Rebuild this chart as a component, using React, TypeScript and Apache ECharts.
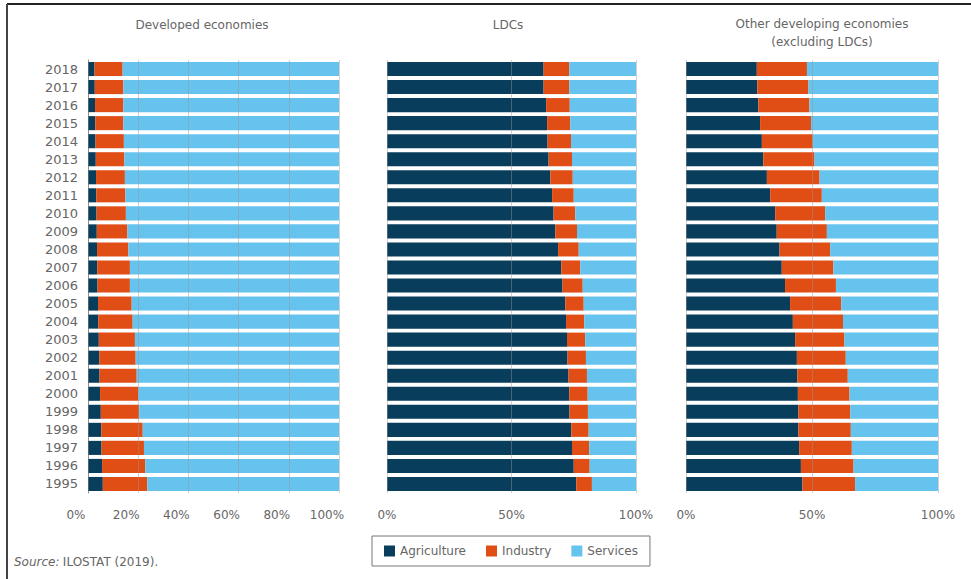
import React, { useEffect, useRef } from "react";
import * as echarts from "echarts";

const years = ["1995","1996","1997","1998","1999","2000","2001","2002","2003","2004","2005","2006","2007","2008","2009","2010","2011","2012","2013","2014","2015","2016","2017","2018"];

const devAgr = [5.9,5.6,5.4,5.3,5.1,4.8,4.6,4.5,4.3,4.1,4.0,3.8,3.7,3.6,3.5,3.4,3.3,3.2,3.1,3.0,2.9,2.8,2.7,2.6];
const devInd = [17.7,17.2,16.9,16.5,15.3,15.2,14.8,14.5,14.4,13.7,13.4,12.9,13.0,12.5,12.2,11.7,11.6,11.5,11.4,11.3,11.2,11.3,11.4,11.2];
const devSer = [76.4,77.2,77.7,78.2,79.6,80.0,80.6,81.0,81.3,82.2,82.6,83.3,83.3,83.9,84.3,84.9,85.1,85.3,85.5,85.7,85.9,85.9,85.9,86.2];

const ldcAgr = [76.0,75.0,74.3,74.0,73.3,73.2,72.9,72.5,72.3,71.9,71.6,70.5,70.0,68.7,67.6,66.9,66.3,65.6,64.9,64.5,64.3,63.9,62.9,62.9];
const ldcInd = [6.3,6.4,6.9,7.0,7.4,7.4,7.4,7.4,7.3,7.3,7.4,8.1,7.6,8.3,8.7,8.7,8.7,9.0,9.4,9.4,9.3,9.5,10.3,10.3];
const ldcSer = [17.7,18.6,18.8,19.0,19.3,19.4,19.7,20.1,20.4,20.8,21.0,21.4,22.4,23.0,23.7,24.4,25.0,25.4,25.7,26.1,26.4,26.6,26.8,26.8];

const othAgr = [46.2,45.6,44.9,44.6,44.6,44.4,44.2,44.0,43.3,42.4,41.3,39.3,38.0,37.1,36.0,35.4,33.4,32.1,30.7,30.1,29.4,28.7,28.3,28.1];
const othInd = [20.9,20.9,20.9,20.8,20.6,20.5,20.0,19.4,19.6,19.9,20.3,20.2,20.5,20.1,19.9,19.8,20.5,20.9,20.3,20.2,20.2,20.3,20.3,19.9];
const othSer = [32.9,33.5,34.2,34.6,34.8,35.1,35.8,36.6,37.1,37.7,38.4,40.5,41.5,42.8,44.1,44.8,46.1,47.0,49.0,49.7,50.4,51.0,51.4,52.0];

const panelTitles = ["Developed economies", "LDCs", "Other developing economies", "(excluding LDCs)"];
const seriesNames = ["Agriculture", "Industry", "Services"];
const sourceText = "ILOSTAT (2019).";

const COLORS = ["#083d5c", "#e04e16", "#66c3ee"];
const FONT = "DejaVu Sans";
const TXT = "#666";

export default function App() {
  const ref = useRef<HTMLDivElement>(null);
  useEffect(() => {
    document.body.style.margin = "0";
    const chart = echarts.init(ref.current!, null, { renderer: "svg" });
    const grids = [
      { left: 88, right: 632, top: 60, bottom: 86 },
      { left: 387, right: 335, top: 60, bottom: 86 },
      { left: 686, right: 33, top: 60, bottom: 86 },
    ];
    const intervals = [20, 50, 50];
    const data = [
      [devAgr, devInd, devSer],
      [ldcAgr, ldcInd, ldcSer],
      [othAgr, othInd, othSer],
    ];
    const xAxis = grids.map((_, i) => ({
      type: "value",
      gridIndex: i,
      min: 0,
      max: 100,
      interval: intervals[i],
      z: 5,
      axisLine: { show: false },
      axisTick: { show: false },
      splitLine: { show: true, lineStyle: { color: "rgba(150,150,150,0.45)", width: 1 } },
      axisLabel: {
        formatter: "{value}%",
        color: TXT,
        fontFamily: FONT,
        fontSize: 12,
        margin: 16,
        padding: i === 0 ? [0, 24, 0, 0] : 0,
      },
    }));
    const yAxis = grids.map((_, i) => ({
      type: "category",
      gridIndex: i,
      data: years,
      axisLine: { show: i === 0, lineStyle: { color: "#888" } },
      axisTick: { show: false },
      axisLabel: {
        show: i === 0,
        color: TXT,
        fontFamily: FONT,
        fontSize: 13,
        margin: 10,
      },
    }));
    const series: any[] = [];
    data.forEach((panel, p) => {
      panel.forEach((vals, k) => {
        series.push({
          name: seriesNames[k],
          type: "bar",
          stack: "s" + p,
          xAxisIndex: p,
          yAxisIndex: p,
          data: vals,
          barCategoryGap: "22%",
          itemStyle: { color: COLORS[k] },
          emphasis: { disabled: true },
        });
      });
    });
    chart.setOption({
      animation: false,
      grid: grids,
      xAxis,
      yAxis,
      series,
      legend: {
        data: seriesNames,
        left: 372,
        top: 536,
        padding: [9, 12, 9, 12],
        itemWidth: 11,
        itemHeight: 11,
        itemGap: 20,
        icon: "rect",
        borderColor: "#777",
        borderWidth: 1,
        textStyle: { color: TXT, fontFamily: FONT, fontSize: 12 },
      },
      graphic: [
        { type: "line", shape: { x1: 7, y1: 4, x2: 971, y2: 4 }, style: { stroke: "#222", lineWidth: 2 } },
        { type: "line", shape: { x1: 7, y1: 4, x2: 7, y2: 579 }, style: { stroke: "#444", lineWidth: 2 } },
        { type: "text", x: 202, y: 25, style: { text: panelTitles[0], textAlign: "center", textVerticalAlign: "middle", fill: TXT, font: `12px "${FONT}"` } },
        { type: "text", x: 508, y: 25, style: { text: panelTitles[1], textAlign: "center", textVerticalAlign: "middle", fill: TXT, font: `12px "${FONT}"` } },
        { type: "text", x: 822, y: 24, style: { text: panelTitles[2], textAlign: "center", textVerticalAlign: "middle", fill: TXT, font: `12px "${FONT}"` } },
        { type: "text", x: 822, y: 42, style: { text: panelTitles[3], textAlign: "center", textVerticalAlign: "middle", fill: TXT, font: `12px "${FONT}"` } },
        {
          type: "text",
          x: 14,
          y: 562,
          style: {
            text: "{i|Source:} {n|" + sourceText + "}",
            textVerticalAlign: "middle",
            rich: {
              i: { fontStyle: "italic", fill: TXT, fontFamily: FONT, fontSize: 12 },
              n: { fill: TXT, fontFamily: FONT, fontSize: 12 },
            },
          },
        },
      ],
    });
    return () => chart.dispose();
  }, []);
  return <div ref={ref} style={{ width: 971, height: 579 }} />;
}
